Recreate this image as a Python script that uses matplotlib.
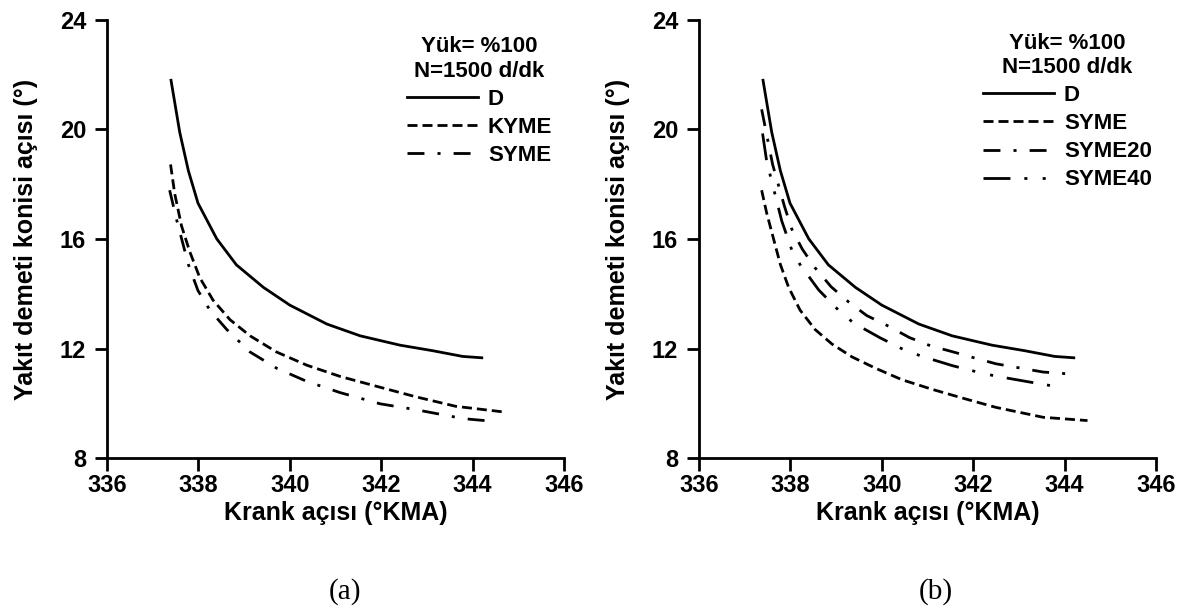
import matplotlib.pyplot as plt

plt.rcParams['font.family'] = ['Liberation Sans', 'DejaVu Sans']
plt.rcParams['font.weight'] = 'bold'

# D (dizel) - iki panelde ayni egri
d_x = [337.40, 337.59, 337.78, 337.99, 338.4, 338.83, 339.42, 340.0, 340.81, 341.54, 342.41, 343.12, 343.78, 344.2]
d_y = [21.79, 19.9, 18.49, 17.31, 16.01, 15.06, 14.24, 13.59, 12.9, 12.47, 12.13, 11.93, 11.72, 11.67]

# panel (a)
kyme_x = [337.39, 337.48, 337.63, 337.81, 338.03, 338.32, 338.69, 339.13, 339.71, 340.37, 341.1, 341.83, 342.75, 343.63, 344.65]
kyme_y = [18.72, 17.66, 16.48, 15.54, 14.59, 13.77, 13.06, 12.47, 11.88, 11.4, 10.99, 10.66, 10.25, 9.9, 9.7]
symea_x = [337.37, 337.52, 337.78, 337.99, 338.25, 338.62, 339.13, 339.71, 340.37, 341.1, 341.98, 342.75, 343.8, 344.47]
symea_y = [17.78, 16.72, 15.07, 14.12, 13.41, 12.7, 11.88, 11.29, 10.81, 10.4, 9.99, 9.78, 9.45, 9.35]

# panel (b)
symeb_x = [337.37, 337.48, 337.63, 337.78, 337.96, 338.21, 338.54, 338.91, 339.35, 339.86, 340.44, 341.1, 341.83, 342.5, 343.53, 344.5]
symeb_y = [17.78, 16.95, 16.01, 15.07, 14.24, 13.41, 12.7, 12.17, 11.7, 11.29, 10.87, 10.52, 10.17, 9.86, 9.5, 9.38]
syme20_x = [337.37, 337.61, 337.87, 338.03, 338.26, 338.54, 338.89, 339.27, 339.67, 340.15, 340.6, 341.06, 341.59, 342.08, 342.5, 343.53, 344.2]
syme20_y = [20.73, 18.72, 17.19, 16.36, 15.63, 14.95, 14.26, 13.71, 13.21, 12.82, 12.41, 12.11, 11.87, 11.64, 11.45, 11.15, 11.07]
syme40_x = [337.39, 337.48, 337.56, 337.81, 338.03, 338.21, 338.62, 339.05, 339.38, 339.96, 340.51, 340.92, 341.55, 342.19, 342.5, 343.53, 343.97]
syme40_y = [19.85, 18.84, 18.31, 16.66, 15.6, 15.07, 14.14, 13.41, 12.94, 12.4, 11.94, 11.7, 11.38, 11.11, 11.0, 10.7, 10.58]

xticks = [336, 338, 340, 342, 344, 346]
yticks = [8, 12, 16, 20, 24]

dash = (3.6, 1.8)
dashdot = (6.1, 4.7, 1.1, 4.7)
dashdotdot = (9.7, 5.0, 1.1, 5.5, 1.1, 5.0)

fig = plt.figure(figsize=(11.84, 6.15), dpi=100)
ax1 = fig.add_axes([0.0904, 0.2546, 0.386, 0.7134])
ax2 = fig.add_axes([0.5904, 0.2546, 0.386, 0.7134])

lw = 2.0
ax1.plot(d_x, d_y, color='black', lw=lw, label='D')
ax1.plot(kyme_x, kyme_y, color='black', lw=lw, dashes=dash, label='KYME')
ax1.plot(symea_x, symea_y, color='black', lw=lw, dashes=dashdot, label='SYME')

ax2.plot(d_x, d_y, color='black', lw=lw, label='D')
ax2.plot(symeb_x, symeb_y, color='black', lw=lw, dashes=dash, label='SYME')
ax2.plot(syme20_x, syme20_y, color='black', lw=lw, dashes=dashdot, label='SYME20')
ax2.plot(syme40_x, syme40_y, color='black', lw=lw, dashes=dashdotdot, label='SYME40')

for ax, anchor, cap, cx in [(ax1, (0.656, 0.962), '(a)', 0.291), (ax2, (0.621, 0.97), '(b)', 0.79)]:
    ax.set_xlim(336, 346)
    ax.set_ylim(8, 24)
    ax.set_xticks(xticks)
    ax.set_yticks(yticks)
    ax.spines['top'].set_visible(False)
    ax.spines['right'].set_visible(False)
    ax.spines['left'].set_linewidth(2)
    ax.spines['bottom'].set_linewidth(2)
    ax.tick_params(direction='out', length=9, width=2, labelsize=17)
    ax.tick_params(axis='y', pad=6)
    ax.tick_params(axis='x', pad=2)
    ax.set_xlabel('Krank açısı (°KMA)', fontsize=18, fontweight='bold', labelpad=3)
    ax.set_ylabel('Yakıt demeti konisi açısı (°)', fontsize=18, fontweight='bold', labelpad=16)
    leg = ax.legend(loc='upper left', bbox_to_anchor=anchor, frameon=False,
                    title='Yük= %100\nN=1500 d/dk', fontsize=16, handlelength=3.2,
                    handletextpad=0.45, labelspacing=0.32, borderaxespad=0, borderpad=0)
    leg.get_title().set_fontsize(16)
    leg.get_title().set_fontweight('bold')
    leg.get_title().set_multialignment('center')
    fig.text(cx, 0.038, cap, ha='center', va='center', fontsize=21,
             family='Liberation Serif', fontweight='normal')

fig.savefig('out.png', dpi=100)
